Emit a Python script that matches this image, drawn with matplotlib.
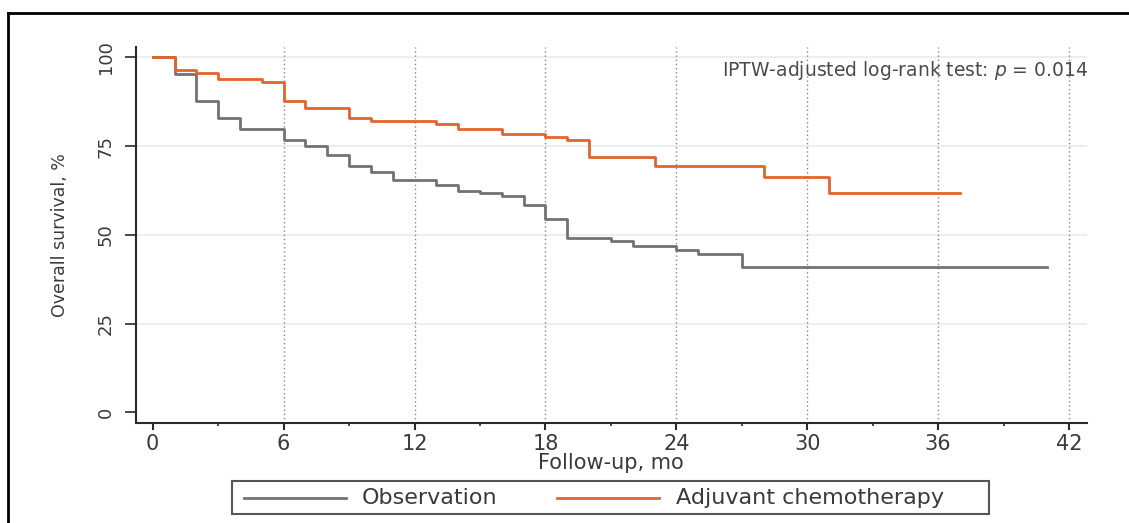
import matplotlib
matplotlib.use("Agg")
import matplotlib.pyplot as plt
from matplotlib.lines import Line2D
from matplotlib.patches import Rectangle
from matplotlib.ticker import MultipleLocator

# Kaplan-Meier step estimates (months, overall survival %)
obs_months = [0, 1, 2, 3, 4, 6, 7, 8, 9, 10, 11, 13, 14, 15, 16, 17, 18, 19, 21, 22, 24, 25, 27, 41]
obs_surv = [100, 95.2, 87.7, 83.0, 79.7, 76.7, 74.9, 72.5, 69.3, 67.6, 65.4, 64.0, 62.4, 61.7,
            61.0, 58.4, 54.4, 49.2, 48.3, 46.9, 45.8, 44.7, 40.8, 40.8]

adj_months = [0, 1, 2, 3, 5, 6, 7, 9, 10, 13, 14, 16, 18, 19, 20, 23, 28, 31, 37]
adj_surv = [100, 96.5, 95.7, 94.0, 93.0, 87.7, 85.7, 83.0, 82.0, 81.3, 79.7, 78.4, 77.5, 76.6,
            72.0, 69.5, 66.2, 61.9, 61.9]

series_labels = ["Observation", "Adjuvant chemotherapy"]
x_ticks = [0, 6, 12, 18, 24, 30, 36, 42]
y_ticks = [0, 25, 50, 75, 100]
annotation = "IPTW-adjusted log-rank test: $p$ = 0.014"

W, H = 1129, 523
fig = plt.figure(figsize=(W / 100, H / 100), dpi=100)
plt.rcParams["font.family"] = ["DejaVu Sans"]
plt.rcParams["mathtext.fontset"] = "dejavusans"


def fx(px):
    return px / W


def fy(py):
    return 1 - py / H


# outer frame (left and top edges)
fig.add_artist(Line2D([fx(7.5), fx(7.5)], [0, fy(13.3)], transform=fig.transFigure,
                      color="black", lw=2.0))
fig.add_artist(Line2D([fx(7.5), 1], [fy(13.3), fy(13.3)], transform=fig.transFigure,
                      color="black", lw=2.0))

left, right, top, bottom = 135.7, 1086.7, 46.7, 423.3
ax = fig.add_axes([fx(left), fy(bottom), (right - left) / W, (bottom - top) / H])

grey = "#727272"
orange = "#E2642E"
text_col = "#3a3a3a"
colors = [grey, orange]

# grid: light solid horizontals, dotted verticals
for v in y_ticks[1:]:
    ax.axhline(v, color="#e4eded", lw=1.2, zorder=0)
for v in x_ticks[1:]:
    ax.axvline(v, color="#858585", lw=1.0, ls=(0, (1.0, 2.0)), zorder=0)

ax.step(obs_months, obs_surv, where="post", color=grey, lw=2.0, zorder=3)
ax.step(adj_months, adj_surv, where="post", color=orange, lw=2.0, zorder=3)

ax.set_xlim(-0.78, 42.81)
ax.set_ylim(-3.1, 103.0)

ax.spines["top"].set_visible(False)
ax.spines["right"].set_visible(False)
for s in ("left", "bottom"):
    ax.spines[s].set_color("#2a2a2a")
    ax.spines[s].set_linewidth(1.5)

ax.set_xticks(x_ticks)
ax.xaxis.set_minor_locator(MultipleLocator(3))
ax.set_yticks(y_ticks)
ax.tick_params(axis="x", which="major", length=5, width=1.5, color="#2a2a2a",
               labelsize=15, labelcolor=text_col, pad=3)
ax.tick_params(axis="x", which="minor", length=2, width=1.2, color="#2a2a2a")
ax.tick_params(axis="y", which="major", length=8, width=1.2, color="#2a2a2a",
               labelsize=13, labelcolor=text_col, pad=7)
for lab in ax.get_yticklabels():
    lab.set_rotation(90)
    lab.set_va("center")

ax.set_xlabel("Follow-up, mo", fontsize=15, color=text_col, labelpad=-1)
ax.set_ylabel("Overall survival, %", fontsize=12.5, color=text_col, labelpad=20)

ax.text(1.0015, 0.9355, annotation, transform=ax.transAxes, ha="right", va="center",
        fontsize=13.5, color="#4a4a4a")

# legend box below the plot: two entries in a single row
leg_l, leg_r, leg_t, leg_b = 232, 989, 481, 513.5
fig.add_artist(Rectangle((fx(leg_l), fy(leg_b)), (leg_r - leg_l) / W, (leg_b - leg_t) / H,
                         transform=fig.transFigure, fill=False, edgecolor="#555555", lw=1.5))
leg_y = 498
handle_x = [(244, 346), (557, 659)]
text_x = [362, 676]
for (h0, h1), tx, lab, col in zip(handle_x, text_x, series_labels, colors):
    fig.add_artist(Line2D([fx(h0), fx(h1)], [fy(leg_y), fy(leg_y)], transform=fig.transFigure,
                          color=col, lw=2.0))
    fig.text(fx(tx), fy(leg_y), lab, ha="left", va="center", fontsize=16, color=text_col)

fig.savefig("out.png", dpi=100)
